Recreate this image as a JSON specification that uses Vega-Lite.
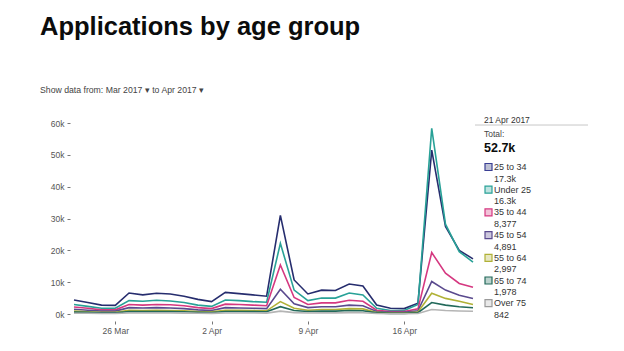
{
  "$schema": "https://vega.github.io/schema/vega-lite/v6.json",
  "autosize": {"type": "none"},
  "width": 399,
  "height": 191,
  "padding": {"left": 74, "top": 123, "right": 151, "bottom": 37},
  "background": "white",
  "title": {
    "text": "Applications by age group",
    "subtitle": "Show data from:  Mar 2017  ▾   to   Apr 2017  ▾",
    "anchor": "start",
    "frame": "group",
    "dx": -34,
    "font": "Liberation Sans",
    "fontSize": 25.5,
    "fontWeight": "bold",
    "color": "#0b0c0c",
    "subtitleFont": "Liberation Sans",
    "subtitleFontSize": 8.7,
    "subtitleColor": "#444",
    "subtitlePadding": 45,
    "offset": 21
  },
  "config": {
    "view": {"stroke": null},
    "axis": {"labelFont": "Liberation Sans", "labelColor": "#555", "tickColor": "#777", "grid": false, "domain": false}
  },
  "data": {
    "values": [
      {"date": "2017/03/23", "25 to 34": 4400, "Under 25": 3000, "35 to 44": 2200, "45 to 54": 1500, "55 to 64": 900, "65 to 74": 600, "Over 75": 250},
      {"date": "2017/03/24", "25 to 34": 3600, "Under 25": 2400, "35 to 44": 1800, "45 to 54": 1200, "55 to 64": 700, "65 to 74": 500, "Over 75": 220},
      {"date": "2017/03/25", "25 to 34": 2800, "Under 25": 1800, "35 to 44": 1300, "45 to 54": 900, "55 to 64": 500, "65 to 74": 350, "Over 75": 180},
      {"date": "2017/03/26", "25 to 34": 2700, "Under 25": 1800, "35 to 44": 1300, "45 to 54": 900, "55 to 64": 500, "65 to 74": 350, "Over 75": 180},
      {"date": "2017/03/27", "25 to 34": 6600, "Under 25": 4200, "35 to 44": 3000, "45 to 54": 2000, "55 to 64": 1200, "65 to 74": 800, "Over 75": 320},
      {"date": "2017/03/28", "25 to 34": 6000, "Under 25": 4000, "35 to 44": 2800, "45 to 54": 1900, "55 to 64": 1100, "65 to 74": 750, "Over 75": 300},
      {"date": "2017/03/29", "25 to 34": 6500, "Under 25": 4300, "35 to 44": 3000, "45 to 54": 2000, "55 to 64": 1200, "65 to 74": 800, "Over 75": 320},
      {"date": "2017/03/30", "25 to 34": 6300, "Under 25": 4100, "35 to 44": 2900, "45 to 54": 1900, "55 to 64": 1100, "65 to 74": 750, "Over 75": 300},
      {"date": "2017/03/31", "25 to 34": 5600, "Under 25": 3600, "35 to 44": 2600, "45 to 54": 1700, "55 to 64": 1000, "65 to 74": 700, "Over 75": 280},
      {"date": "2017/04/01", "25 to 34": 4600, "Under 25": 2800, "35 to 44": 2000, "45 to 54": 1300, "55 to 64": 800, "65 to 74": 550, "Over 75": 230},
      {"date": "2017/04/02", "25 to 34": 3900, "Under 25": 2400, "35 to 44": 1700, "45 to 54": 1100, "55 to 64": 700, "65 to 74": 450, "Over 75": 200},
      {"date": "2017/04/03", "25 to 34": 6800, "Under 25": 4400, "35 to 44": 3100, "45 to 54": 2000, "55 to 64": 1200, "65 to 74": 800, "Over 75": 320},
      {"date": "2017/04/04", "25 to 34": 6400, "Under 25": 4200, "35 to 44": 3000, "45 to 54": 1900, "55 to 64": 1200, "65 to 74": 800, "Over 75": 310},
      {"date": "2017/04/05", "25 to 34": 6000, "Under 25": 3900, "35 to 44": 2800, "45 to 54": 1800, "55 to 64": 1100, "65 to 74": 750, "Over 75": 300},
      {"date": "2017/04/06", "25 to 34": 5600, "Under 25": 3700, "35 to 44": 2600, "45 to 54": 1700, "55 to 64": 1000, "65 to 74": 700, "Over 75": 290},
      {"date": "2017/04/07", "25 to 34": 31000, "Under 25": 22200, "35 to 44": 15400, "45 to 54": 7800, "55 to 64": 3900, "65 to 74": 2300, "Over 75": 900},
      {"date": "2017/04/08", "25 to 34": 10700, "Under 25": 7500, "35 to 44": 5200, "45 to 54": 3200, "55 to 64": 1800, "65 to 74": 1100, "Over 75": 420},
      {"date": "2017/04/09", "25 to 34": 6300, "Under 25": 4200, "35 to 44": 3000, "45 to 54": 2000, "55 to 64": 1200, "65 to 74": 800, "Over 75": 320},
      {"date": "2017/04/10", "25 to 34": 7500, "Under 25": 5000, "35 to 44": 3500, "45 to 54": 2300, "55 to 64": 1400, "65 to 74": 900, "Over 75": 360},
      {"date": "2017/04/11", "25 to 34": 7400, "Under 25": 5000, "35 to 44": 3500, "45 to 54": 2300, "55 to 64": 1400, "65 to 74": 900, "Over 75": 360},
      {"date": "2017/04/12", "25 to 34": 9400, "Under 25": 6600, "35 to 44": 4300, "45 to 54": 2800, "55 to 64": 1700, "65 to 74": 1100, "Over 75": 420},
      {"date": "2017/04/13", "25 to 34": 8800, "Under 25": 6000, "35 to 44": 4000, "45 to 54": 2600, "55 to 64": 1600, "65 to 74": 1000, "Over 75": 400},
      {"date": "2017/04/14", "25 to 34": 2800, "Under 25": 1800, "35 to 44": 1200, "45 to 54": 800, "55 to 64": 500, "65 to 74": 350, "Over 75": 150},
      {"date": "2017/04/15", "25 to 34": 1800, "Under 25": 1100, "35 to 44": 800, "45 to 54": 500, "55 to 64": 300, "65 to 74": 200, "Over 75": 100},
      {"date": "2017/04/16", "25 to 34": 1700, "Under 25": 1100, "35 to 44": 800, "45 to 54": 500, "55 to 64": 300, "65 to 74": 200, "Over 75": 100},
      {"date": "2017/04/17", "25 to 34": 3400, "Under 25": 3000, "35 to 44": 1600, "45 to 54": 1000, "55 to 64": 600, "65 to 74": 400, "Over 75": 180},
      {"date": "2017/04/18", "25 to 34": 51500, "Under 25": 58300, "35 to 44": 19300, "45 to 54": 10200, "55 to 64": 6500, "65 to 74": 3600, "Over 75": 1400},
      {"date": "2017/04/19", "25 to 34": 27500, "Under 25": 28200, "35 to 44": 12800, "45 to 54": 7500, "55 to 64": 4900, "65 to 74": 2800, "Over 75": 1100},
      {"date": "2017/04/20", "25 to 34": 20000, "Under 25": 19600, "35 to 44": 9600, "45 to 54": 5900, "55 to 64": 4000, "65 to 74": 2300, "Over 75": 950},
      {"date": "2017/04/21", "25 to 34": 17300, "Under 25": 16300, "35 to 44": 8377, "45 to 54": 4891, "55 to 64": 2997, "65 to 74": 1978, "Over 75": 842}
    ],
    "format": {"parse": {"date": "date"}}
  },
  "transform": [
    {"fold": ["25 to 34", "Under 25", "35 to 44", "45 to 54", "55 to 64", "65 to 74", "Over 75"], "as": ["group", "value"]}
  ],
  "resolve": {"scale": {"y": "independent"}},
  "layer": [
    {
      "mark": {"type": "line", "strokeWidth": 1.6},
      "encoding": {
        "x": {
          "field": "date", "type": "temporal", "title": null,
          "scale": {"nice": false},
          "axis": {"format": "%-d %b", "tickCount": {"interval": "week", "step": 1}, "labelFontSize": 8.5, "tickSize": 3, "labelPadding": 2, "offset": 7}
        },
        "y": {
          "field": "value", "type": "quantitative", "title": null,
          "scale": {"domain": [0, 60000], "nice": false},
          "axis": {"format": "~s", "tickCount": 6, "labelFontSize": 8.5, "tickSize": 3, "labelPadding": 3, "offset": 4}
        },
        "color": {
          "field": "group", "type": "nominal", "legend": null,
          "scale": {
            "domain": ["Over 75", "65 to 74", "55 to 64", "45 to 54", "35 to 44", "25 to 34", "Under 25"],
            "range": ["#b5b5b5", "#22695a", "#b0b136", "#5a4a8e", "#d53880", "#262d6e", "#28a197"]
          }
        }
      }
    },
    {
      "transform": [
        {"joinaggregate": [{"op": "max", "field": "date", "as": "last"}]},
        {"filter": "time(datum.date) === time(datum.last)"}
      ],
      "encoding": {
        "x": {"field": "date", "type": "temporal", "title": null},
        "y": {
          "field": "group", "type": "nominal", "title": null, "axis": null,
          "scale": {
            "type": "band",
            "domain": ["25 to 34", "Under 25", "35 to 44", "45 to 54", "55 to 64", "65 to 74", "Over 75"],
            "paddingInner": 0.586,
            "paddingOuter": 1,
            "align": 0.866
          }
        }
      },
      "layer": [
        {
          "mark": {"type": "point", "shape": "M 3.43 -1 H 5.43 V 1 H 3.43 Z", "size": 49, "filled": true, "fillOpacity": 0.3, "strokeWidth": 1.2, "opacity": 1},
          "encoding": {
            "color": {"field": "group", "type": "nominal", "legend": null},
            "stroke": {
              "field": "group", "type": "nominal", "legend": null,
              "scale": {
                "domain": ["25 to 34", "Under 25", "35 to 44", "45 to 54", "55 to 64", "65 to 74", "Over 75"],
                "range": ["#3a3f94", "#28a197", "#d53880", "#5a4a8e", "#b0b136", "#22695a", "#9a9a9a"]
              }
            }
          }
        },
        {
          "mark": {"type": "text", "align": "left", "baseline": "middle", "dx": 21, "font": "Liberation Sans", "fontSize": 9, "color": "#333"},
          "encoding": {"text": {"field": "group", "type": "nominal"}}
        },
        {
          "transform": [{"filter": "datum.value >= 10000"}],
          "mark": {"type": "text", "align": "left", "baseline": "middle", "dx": 21, "dy": 11.5, "font": "Liberation Sans", "fontSize": 9, "color": "#333"},
          "encoding": {"text": {"field": "value", "type": "quantitative", "format": ".3~s"}}
        },
        {
          "transform": [{"filter": "datum.value < 10000"}],
          "mark": {"type": "text", "align": "left", "baseline": "middle", "dx": 21, "dy": 11.5, "font": "Liberation Sans", "fontSize": 9, "color": "#333"},
          "encoding": {"text": {"field": "value", "type": "quantitative", "format": ","}}
        },
        {
          "transform": [{"aggregate": [{"op": "max", "field": "date", "as": "date"}, {"op": "sum", "field": "value", "as": "total"}]}],
          "encoding": {"y": {"datum": "25 to 34", "type": "nominal"}},
          "layer": [
            {
              "mark": {"type": "text", "align": "left", "baseline": "middle", "dx": 11, "dy": -47.5, "font": "Liberation Sans", "fontSize": 8.5, "color": "#333"},
              "encoding": {"text": {"field": "date", "type": "temporal", "format": "%-d %b %Y"}}
            },
            {
              "mark": {"type": "point", "shape": "M 0.04 -0.84 H 2.3", "size": 10000, "filled": false, "stroke": "#c8c8c8", "strokeWidth": 1, "opacity": 1}
            },
            {
              "mark": {"type": "text", "align": "left", "baseline": "middle", "dx": 11, "dy": -33, "font": "Liberation Sans", "fontSize": 8.5, "color": "#444", "text": "Total:"}
            },
            {
              "mark": {"type": "text", "align": "left", "baseline": "middle", "dx": 11, "dy": -19.5, "font": "Liberation Sans", "fontSize": 12.5, "fontWeight": "bold", "color": "#0b0c0c"},
              "encoding": {"text": {"field": "total", "type": "quantitative", "format": ".3~s"}}
            }
          ]
        }
      ]
    }
  ]
}
